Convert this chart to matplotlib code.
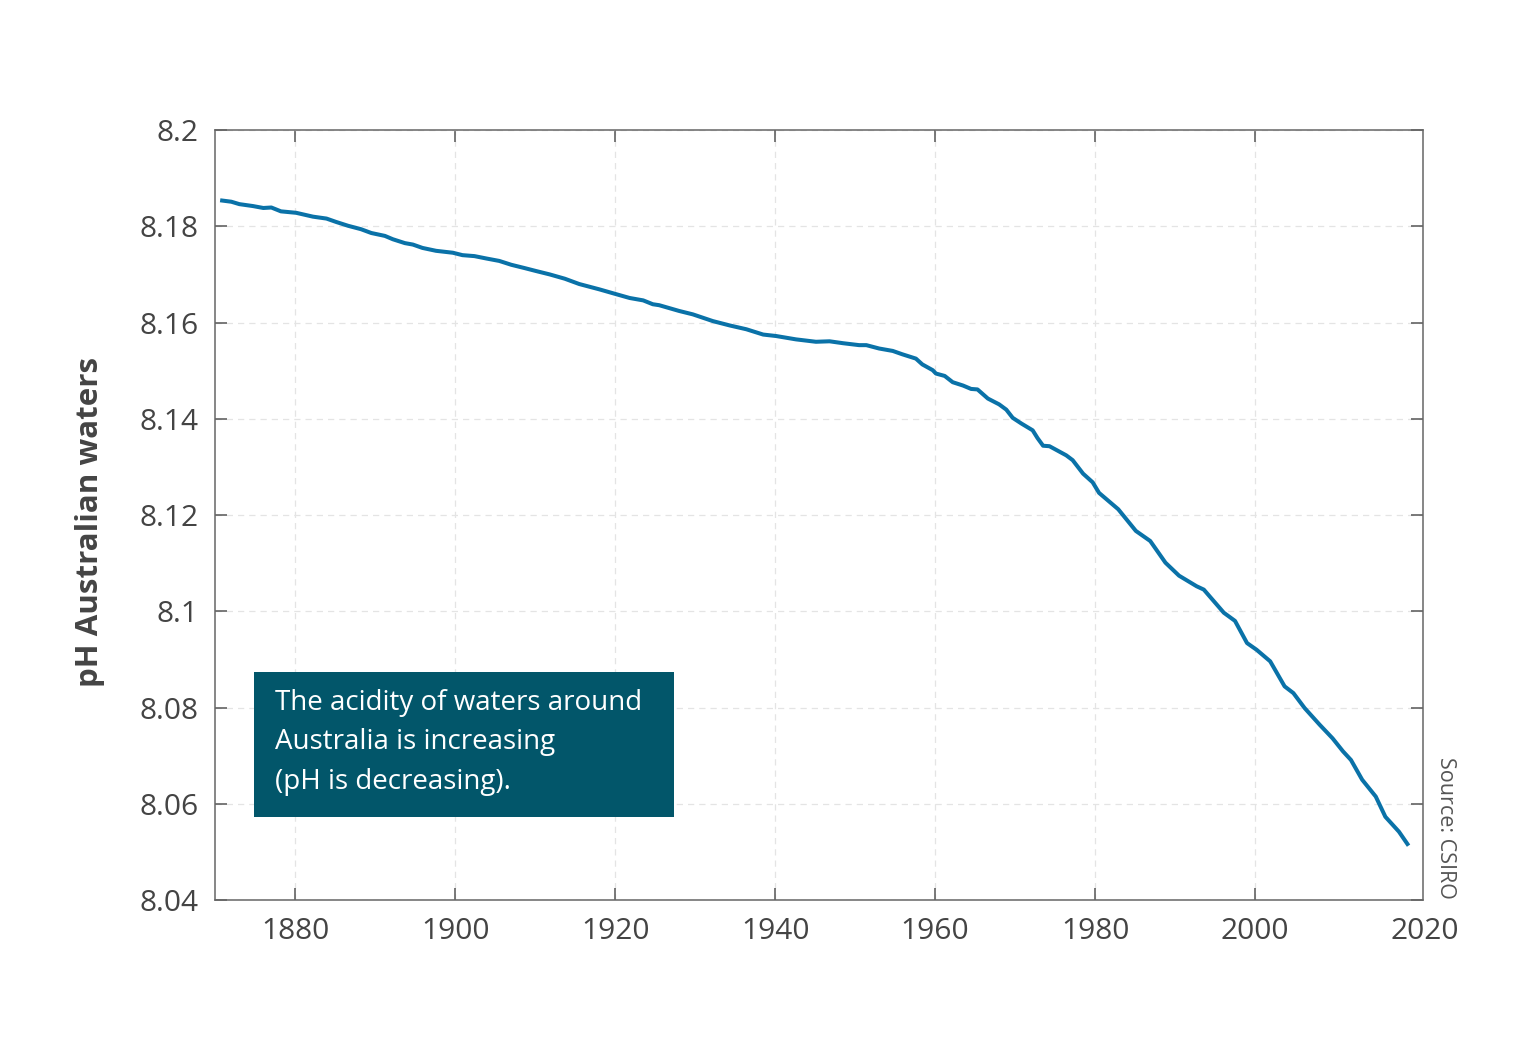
import numpy as np
import matplotlib.pyplot as plt
from matplotlib.patches import Rectangle
import matplotlib.transforms as mtransforms

# pH of Australian waters
years = [1870.6, 1872, 1873, 1874.7, 1876, 1877, 1878.2, 1880.1, 1882.2, 1883.9,
         1885.1, 1886.6, 1888.2, 1889.5, 1891.2, 1892.2, 1893.7, 1894.7, 1895.9, 1897.6,
         1899.7, 1900.9, 1902.4, 1903.9, 1905.5, 1907, 1908.7, 1910.1, 1911.8, 1913.7,
         1915.5, 1918, 1920.1, 1921.8, 1923.5, 1924.7, 1925.5, 1928, 1929.7, 1932.2,
         1934.3, 1936.4, 1938.5, 1940.1, 1942.6, 1945.1, 1946.8, 1948.5, 1950.5, 1951.4,
         1953, 1954.7, 1955.9, 1957.6, 1958.4, 1959.7, 1960.1, 1961.2, 1962.2, 1963.5,
         1964.5, 1965.3, 1966.6, 1968, 1968.9, 1969.7, 1970.8, 1972.2, 1972.8, 1973.5,
         1974.3, 1976.4, 1977.2, 1978.5, 1979.7, 1980.5, 1982.9, 1985.1, 1986.9, 1988.8,
         1990.5, 1992.7, 1993.6, 1996.1, 1997.5, 1999, 2000.2, 2001.9, 2003.7, 2004.8,
         2006.2, 2008.1, 2009.7, 2011, 2012, 2013.4, 2015.1, 2016.3, 2018, 2019.2]
ph = [8.1854, 8.1851, 8.1846, 8.1842, 8.1838, 8.1839, 8.1831, 8.1828, 8.1820, 8.1816,
      8.1809, 8.1801, 8.1794, 8.1786, 8.1780, 8.1773, 8.1765, 8.1762, 8.1755, 8.1749,
      8.1745, 8.1740, 8.1738, 8.1733, 8.1728, 8.1720, 8.1713, 8.1707, 8.1700, 8.1691,
      8.1680, 8.1669, 8.1659, 8.1651, 8.1646, 8.1638, 8.1636, 8.1624, 8.1617, 8.1603,
      8.1594, 8.1586, 8.1575, 8.1572, 8.1565, 8.1560, 8.1561, 8.1557, 8.1553, 8.1553,
      8.1546, 8.1541, 8.1534, 8.1525, 8.1513, 8.1501, 8.1494, 8.1489, 8.1476, 8.1469,
      8.1462, 8.1461, 8.1442, 8.1430, 8.1419, 8.1402, 8.1390, 8.1376, 8.1360, 8.1344,
      8.1343, 8.1324, 8.1314, 8.1286, 8.1268, 8.1246, 8.1212, 8.1167, 8.1146, 8.1101,
      8.1074, 8.1052, 8.1045, 8.0997, 8.0980, 8.0934, 8.0920, 8.0896, 8.0844, 8.0830,
      8.0799, 8.0764, 8.0736, 8.0709, 8.0691, 8.0650, 8.0615, 8.0573, 8.0542, 8.0513]

x_ticks = [1880, 1900, 1920, 1940, 1960, 1980, 2000, 2020]
y_ticks = [8.04, 8.06, 8.08, 8.1, 8.12, 8.14, 8.16, 8.18, 8.2]
y_tick_labels = ["8.04", "8.06", "8.08", "8.1", "8.12", "8.14", "8.16", "8.18", "8.2"]

note_text = "The acidity of waters around\nAustralia is increasing\n(pH is decreasing)."

plt.rcParams['font.family'] = ['Open Sans', 'DejaVu Sans']

fig = plt.figure(figsize=(15.36, 10.64), dpi=100)
ax = fig.add_axes([0.1402, 0.1541, 0.7862, 0.7237])

ax.plot(years, ph, color='#0a72a8', lw=2.9, solid_capstyle='butt')

ax.set_xlim(1870, 2021)
ax.set_ylim(8.04, 8.2)
ax.set_xticks(x_ticks)
ax.set_xticklabels([str(t) for t in x_ticks])
ax.set_yticks(y_ticks)
ax.set_yticklabels(y_tick_labels)

ax.grid(True, color='#e4e4e4', ls=(0, (5, 4)), lw=0.9)
ax.set_axisbelow(True)
ax.tick_params(direction='in', length=8.5, width=1.1, color='#555555',
               top=True, right=True, labelsize=21.5, labelcolor='#444444', pad=12)
for s in ax.spines.values():
    s.set_color('#666666')
    s.set_linewidth(1.1)

# the last year label sits at the right corner in the original, with no tick mark
last = ax.xaxis.get_major_ticks()[-1]
last.tick1line.set_visible(False)
last.tick2line.set_visible(False)
last.gridline.set_visible(False)
lbl = ax.get_xticklabels()[-1]
lbl.set_transform(lbl.get_transform() + mtransforms.ScaledTranslation(0.1, 0, fig.dpi_scale_trans))

fig.text(0.0586, 0.509, "pH Australian waters", rotation=90, ha='center', va='center',
         fontsize=22.5, fontweight='bold', color='#444444')

fig.patches.append(Rectangle((0.1654, 0.2321), 0.2734, 0.1363, transform=fig.transFigure,
                             facecolor='#02566a', edgecolor='none', zorder=5))
fig.text(0.179, 0.3025, note_text, ha='left', va='center', fontsize=20,
         color='white', linespacing=1.55, zorder=6)

fig.text(0.9408, 0.2218, "Source: CSIRO", rotation=270, ha='center', va='center',
         fontsize=15.5, color='#555555')

plt.savefig("out.png", dpi=100)
